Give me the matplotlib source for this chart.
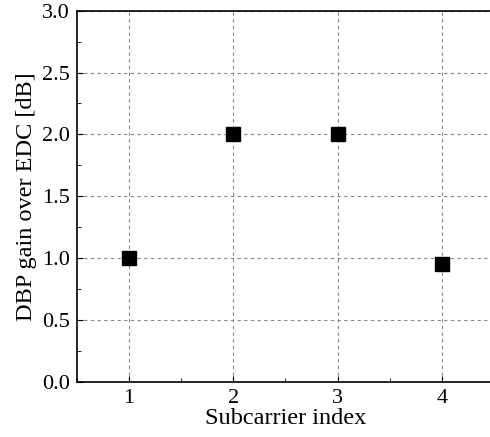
import matplotlib
matplotlib.use("Agg")
import matplotlib.pyplot as plt
from matplotlib.ticker import MultipleLocator

subcarrier = [1, 2, 3, 4]
gain_db = [1.0, 2.0, 2.0, 0.95]

plt.rcParams["font.family"] = ["Liberation Serif", "DejaVu Serif"]

fig = plt.figure(figsize=(4.9, 4.37), dpi=100)
ax = fig.add_axes([0.157, 0.1265, 0.851, 0.849])

ax.plot(subcarrier, gain_db, linestyle="none", marker="s", markersize=10,
        color="black", markeredgewidth=1.0, markeredgecolor="black")

ax.set_xlim(0.5, 4.5)
ax.set_ylim(0.0, 3.0)
ax.set_xticks(subcarrier)
ax.xaxis.set_minor_locator(MultipleLocator(0.5))
ax.yaxis.set_major_locator(MultipleLocator(0.5))
ax.yaxis.set_minor_locator(MultipleLocator(0.25))
ax.yaxis.set_major_formatter(plt.FormatStrFormatter("%.1f"))

ax.tick_params(which="both", direction="in", top=False, right=False, labelsize=16)
ax.tick_params(which="major", length=4, pad=5)
ax.tick_params(which="minor", length=3)
ax.grid(True, which="major", linestyle="--", color="#888888", linewidth=0.8, dashes=(3, 3))

for s in ax.spines.values():
    s.set_linewidth(1.2)

ax.set_xlabel("Subcarrier index", fontsize=17.5, labelpad=0)
ax.set_ylabel("DBP gain over EDC [dB]", fontsize=17.5, labelpad=4)

fig.savefig("out.png", dpi=100)
